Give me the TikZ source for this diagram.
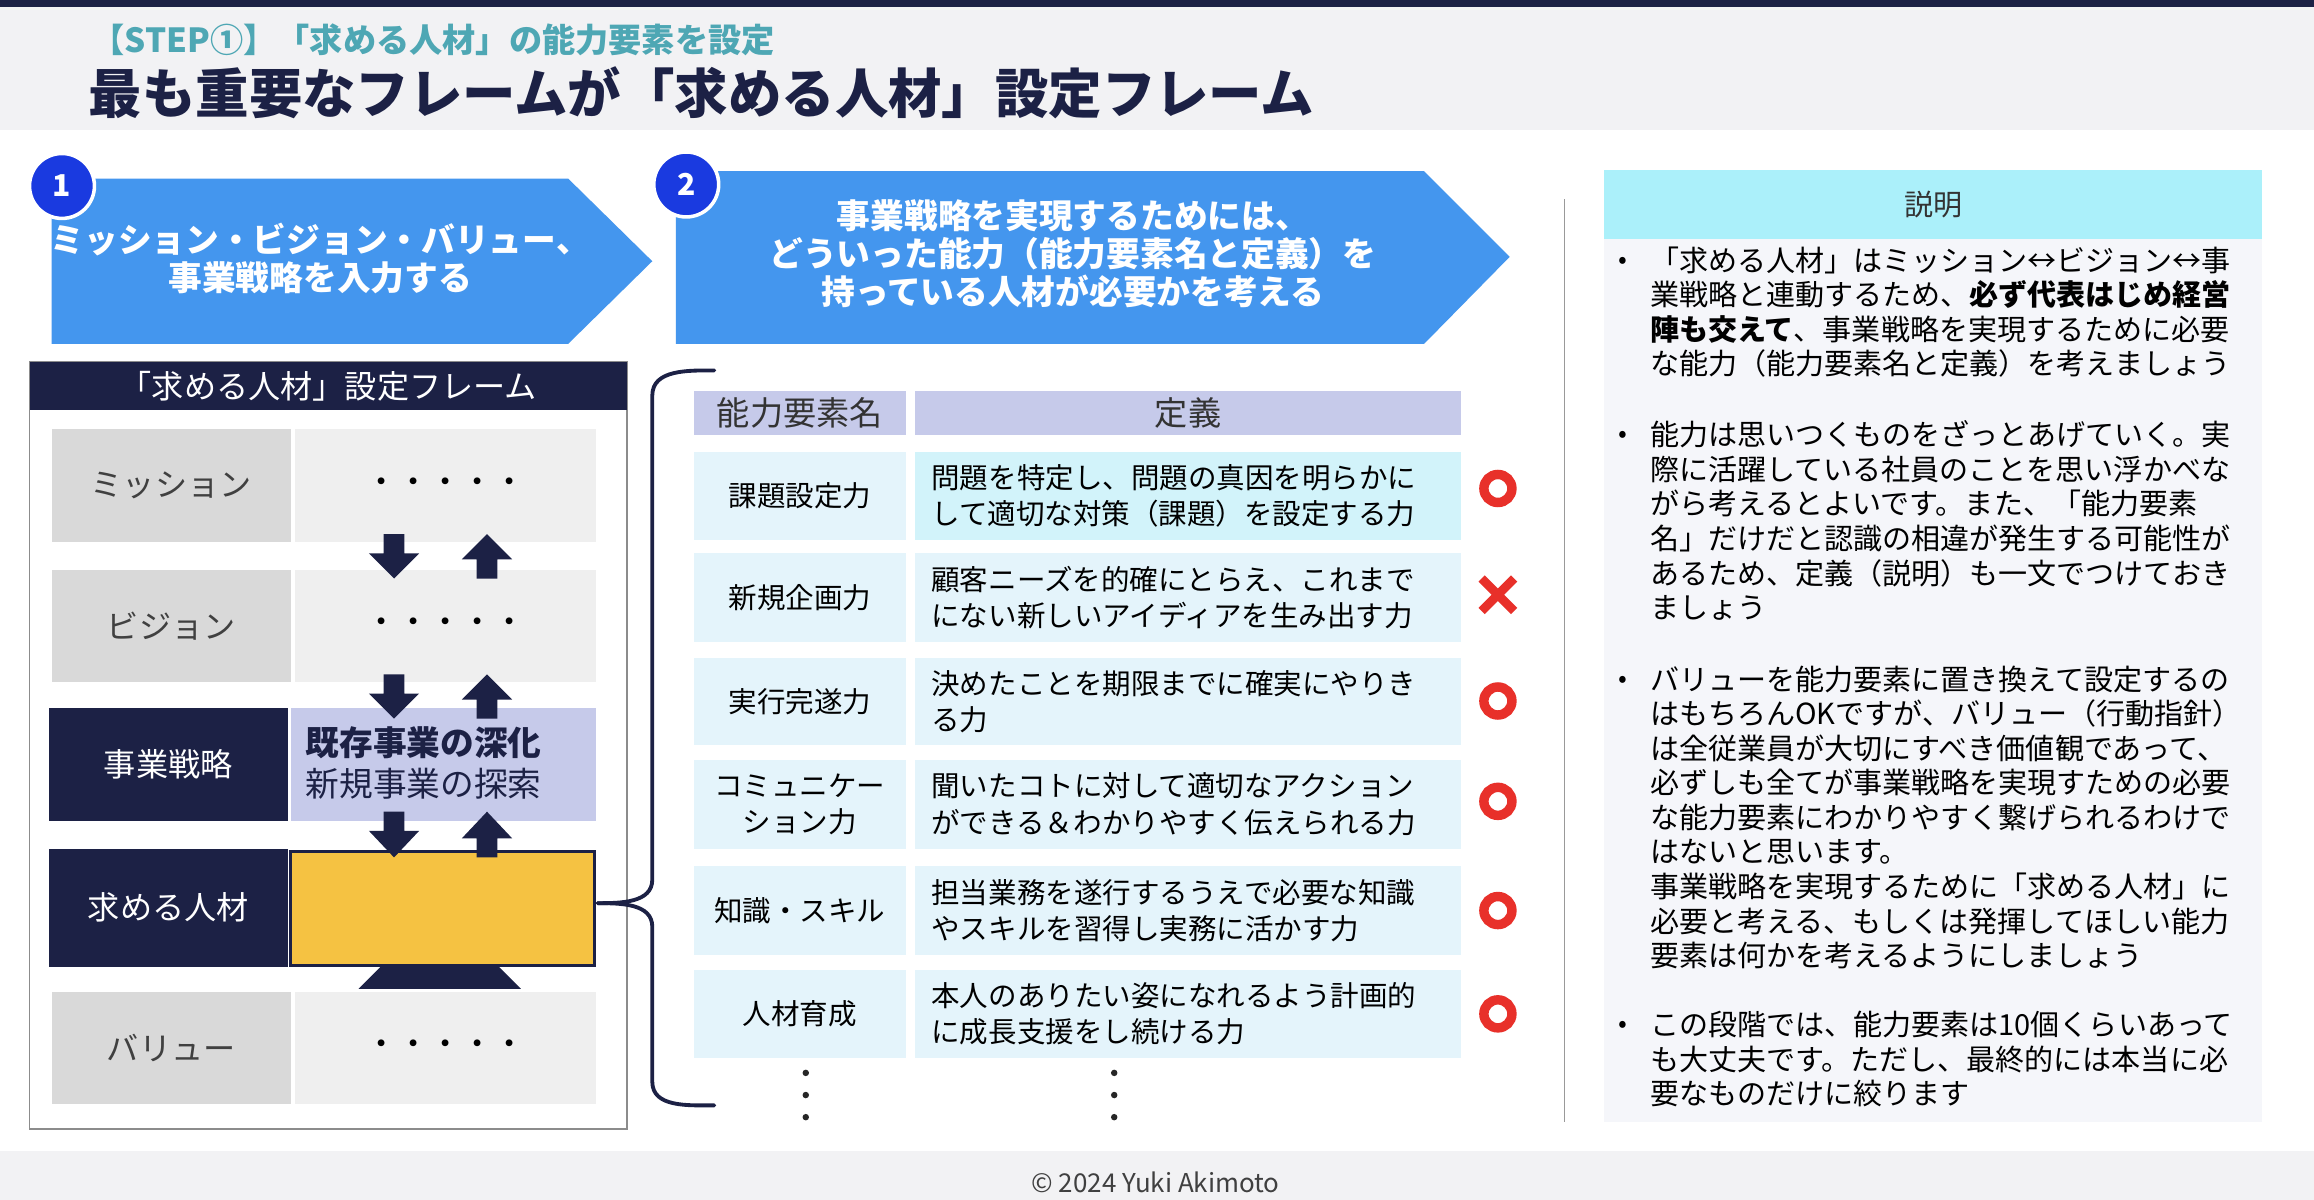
\documentclass[tikz,border=0pt]{standalone}
\usepackage{fontspec}
\setmainfont{Noto Sans CJK JP}
\definecolor{navy}{HTML}{1C2145}
\definecolor{teal}{HTML}{4EA7B4}
\definecolor{ablue}{HTML}{4496EE}
\definecolor{cblue}{HTML}{1A3AE0}
\definecolor{hgray}{HTML}{F2F2F4}
\definecolor{lgray}{HTML}{D9D9D9}
\definecolor{vlgray}{HTML}{EFEFEF}
\definecolor{lav}{HTML}{C6CAEA}
\definecolor{ylw}{HTML}{F5C242}
\definecolor{cellb}{HTML}{E4F4FB}
\definecolor{cellc}{HTML}{D2F3FA}
\definecolor{cyanh}{HTML}{ABF0FA}
\definecolor{panel}{HTML}{F5F6FA}
\definecolor{mred}{HTML}{E8302A}
\newcommand\cell[8]{\fill[#6] (#2,#3) rectangle (#4,#5); \node[inner sep=0,align=center,#7] (#1) at ({(#2+#4)/2},{(#3+#5)/2}) {#8};}
\newcommand\dcell[5]{\fill[#4] (620,#2) rectangle (990,#3); \node[inner sep=0,align=left,anchor=west,tc] (#1) at (631,{(#2+#3)/2}) {#5};}
\newcommand\darr[3]{\fill[navy] (#1-7,#2) -- (#1+7,#2) -- (#1+7,#2+13) -- (#1+17,#2+13) -- (#1,#3) -- (#1-17,#2+13) -- (#1-7,#2+13) -- cycle;}
\newcommand\uarr[3]{\fill[navy] (#1-7,#3) -- (#1+7,#3) -- (#1+7,#3-13) -- (#1+17,#3-13) -- (#1,#2) -- (#1-17,#3-13) -- (#1-7,#3-13) -- cycle;}
\newcommand\ring[2]{\draw[mred,line width=3.2mm] (#1) circle (9.5);}
\begin{document}
\begin{tikzpicture}[x=0.05cm,y=-0.05cm,
  lbl/.style={font=\fontsize{31}{36}\selectfont},
  arrtext/.style={font=\fontsize{32.5}{37}\bfseries\selectfont,text=white,align=center},
  tc/.style={font=\fontsize{27.5}{35}\selectfont},
  bt/.style={font=\fontsize{28}{33.3}\selectfont,anchor=north west,align=left,inner sep=0,text width=640}]
\useasboundingbox (0,0) rectangle (1568,813);
\fill[white] (0,0) rectangle (1568,813);
\fill[hgray] (0,5) rectangle (1568,88);
\fill[navy] (0,0) rectangle (1568,5);
\fill[hgray] (0,780) rectangle (1568,813);
\node[anchor=west,inner sep=0,text=teal,font=\fontsize{32}{34}\bfseries\selectfont] (sub) at (62,27) {【STEP①】「求める人材」の能力要素を設定};
\node[anchor=west,inner sep=0,text=navy,font=\fontsize{51.5}{56}\bfseries\selectfont] (title) at (60,63) {最も重要なフレームが「求める人材」設定フレーム};
\node[inner sep=0,font=\fontsize{25}{28}\selectfont,text=black!75] (copy) at (783,801) {© 2024 Yuki Akimoto};
% arrows
\fill[ablue] (35,121) -- (385,121) -- (442,177) -- (385,233) -- (35,233) -- cycle;
\node[arrtext] (a1) at (217,175) {ミッション・ビジョン・バリュー、\\事業戦略を入力する};
\fill[ablue] (458,116) -- (965,116) -- (1023,174) -- (965,233) -- (458,233) -- cycle;
\node[arrtext] (a2) at (727,172) {事業戦略を実現するためには、\\どういった能力（能力要素名と定義）を\\持っている人材が必要かを考える};
\draw[white,line width=1.2mm,fill=cblue] (42,126) circle (22);
\node[text=white,font=\fontsize{29}{30}\bfseries\selectfont] (n1) at (42,126) {1};
\draw[white,line width=1.2mm,fill=cblue] (465,125) circle (22);
\node[text=white,font=\fontsize{29}{30}\bfseries\selectfont] (n2) at (465,125) {2};
% left frame
\draw[black!45,line width=0.5mm] (20,245) rectangle (425,765);
\cell{fh}{20}{245}{425}{278}{navy}{text=white,lbl}{「求める人材」設定フレーム}
\cell{m1}{35}{291}{197}{367}{lgray}{lbl,text=black!75}{ミッション}
\cell{m2}{200}{291}{404}{367}{vlgray}{lbl}{・・・・・}
\cell{v1}{35}{386}{197}{462}{lgray}{lbl,text=black!75}{ビジョン}
\cell{v2}{200}{386}{404}{462}{vlgray}{lbl}{・・・・・}
\cell{s1}{33}{480}{195}{556}{navy}{lbl,text=white}{事業戦略}
\fill[lav] (197,480) rectangle (404,556);
\node[inner sep=0,anchor=west,align=left,font=\fontsize{32.5}{39}\selectfont,text=navy] (s2) at (207,517) {\textbf{既存事業の深化}\\新規事業の探索};
\cell{j1}{33}{575}{195}{655}{navy}{lbl,text=white}{求める人材}
\draw[navy,line width=1mm,fill=ylw] (197,577) rectangle (403,654);
\node[inner sep=0] (j2) at (300,615) {};
\fill[navy] (258,655) -- (338,655) -- (353,670) -- (243,670) -- cycle;
\cell{b1}{35}{672}{197}{748}{lgray}{lbl,text=black!75}{バリュー}
\cell{b2}{200}{672}{404}{748}{vlgray}{lbl}{・・・・・}
\darr{267}{362}{392}\uarr{330}{362}{392}
\darr{267}{457}{487}\uarr{330}{457}{487}
\darr{267}{550}{581}\uarr{330}{550}{581}
% brace
\draw[navy,line width=1.3mm,line cap=round] (484,251) to[out=180,in=90] (442,268) -- (442,596) to[out=-90,in=0] (405,612);
\draw[navy,line width=1.3mm,line cap=round] (405,612) to[out=0,in=90] (442,628) -- (442,733) to[out=-90,in=180] (484,749);
% table
\cell{th1}{470}{265}{614}{295}{lav}{font=\fontsize{32}{34}\selectfont,text=black!80}{能力要素名}
\cell{th2}{620}{265}{990}{295}{lav}{font=\fontsize{32}{34}\selectfont,text=black!80}{定義}
\cell{r1a}{470}{306}{614}{366}{cellb}{tc}{課題設定力}
\dcell{r1b}{306}{366}{cellc}{問題を特定し、問題の真因を明らかに\\して適切な対策（課題）を設定する力}
\cell{r2a}{470}{375}{614}{435}{cellb}{tc}{新規企画力}
\dcell{r2b}{375}{435}{cellb}{顧客ニーズを的確にとらえ、これまで\\にない新しいアイディアを生み出す力}
\cell{r3a}{470}{446}{614}{505}{cellb}{tc}{実行完遂力}
\dcell{r3b}{446}{505}{cellb}{決めたことを期限までに確実にやりき\\る力}
\cell{r4a}{470}{515}{614}{575}{cellb}{tc}{コミュニケー\\ション力}
\dcell{r4b}{515}{575}{cellb}{聞いたコトに対して適切なアクション\\ができる＆わかりやすく伝えられる力}
\cell{r5a}{470}{587}{614}{647}{cellb}{tc}{知識・スキル}
\dcell{r5b}{587}{647}{cellb}{担当業務を遂行するうえで必要な知識\\やスキルを習得し実務に活かす力}
\cell{r6a}{470}{657}{614}{717}{cellb}{tc}{人材育成}
\dcell{r6b}{657}{717}{cellb}{本人のありたい姿になれるよう計画的\\に成長支援をし続ける力}
\coordinate (k1) at (1015,331);\ring{k1}{}
\coordinate (k3) at (1015,475);\ring{k3}{}
\coordinate (k4) at (1015,543);\ring{k4}{}
\coordinate (k5) at (1015,617);\ring{k5}{}
\coordinate (k6) at (1015,687);\ring{k6}{}
\draw[mred,line width=3mm] (1004,392) -- (1026,414) (1026,392) -- (1004,414);
\foreach \x in {546,755}{\foreach \y in {727,742,757}{\fill[black!85] (\x,\y) circle (2.2);}}
% divider
\draw[black!40,line width=0.4mm] (1060,135) -- (1060,760);
% right panel
\cell{ph}{1087}{115}{1533}{162}{cyanh}{font=\fontsize{28}{30}\selectfont,text=black!80}{説明}
\fill[panel] (1087,162) rectangle (1533,760);
\foreach \y in {178,296,462,696}{\node[font=\fontsize{25}{30}\selectfont,inner sep=0] at (1100,\y) {•};}
\node[bt] (t1) at (1118,167) {「求める人材」はミッション↔ビジョン↔事\\業戦略と連動するため、\textbf{必ず代表はじめ経営}\\\textbf{陣も交えて}、事業戦略を実現するために必要\\な能力（能力要素名と定義）を考えましょう};
\node[bt] (t2) at (1118,285) {能力は思いつくものをざっとあげていく。実\\際に活躍している社員のことを思い浮かべな\\がら考えるとよいです。また、「能力要素\\名」だけだと認識の相違が発生する可能性が\\あるため、定義（説明）も一文でつけておき\\ましょう};
\node[bt] (t3) at (1118,451) {バリューを能力要素に置き換えて設定するの\\はもちろんOKですが、バリュー（行動指針）\\は全従業員が大切にすべき価値観であって、\\必ずしも全てが事業戦略を実現すための必要\\な能力要素にわかりやすく繋げられるわけで\\はないと思います。\\事業戦略を実現するために「求める人材」に\\必要と考える、もしくは発揮してほしい能力\\要素は何かを考えるようにしましょう};
\node[bt] (t4) at (1118,685) {この段階では、能力要素は10個くらいあって\\も大丈夫です。ただし、最終的には本当に必\\要なものだけに絞ります};
\end{tikzpicture}
\end{document}
